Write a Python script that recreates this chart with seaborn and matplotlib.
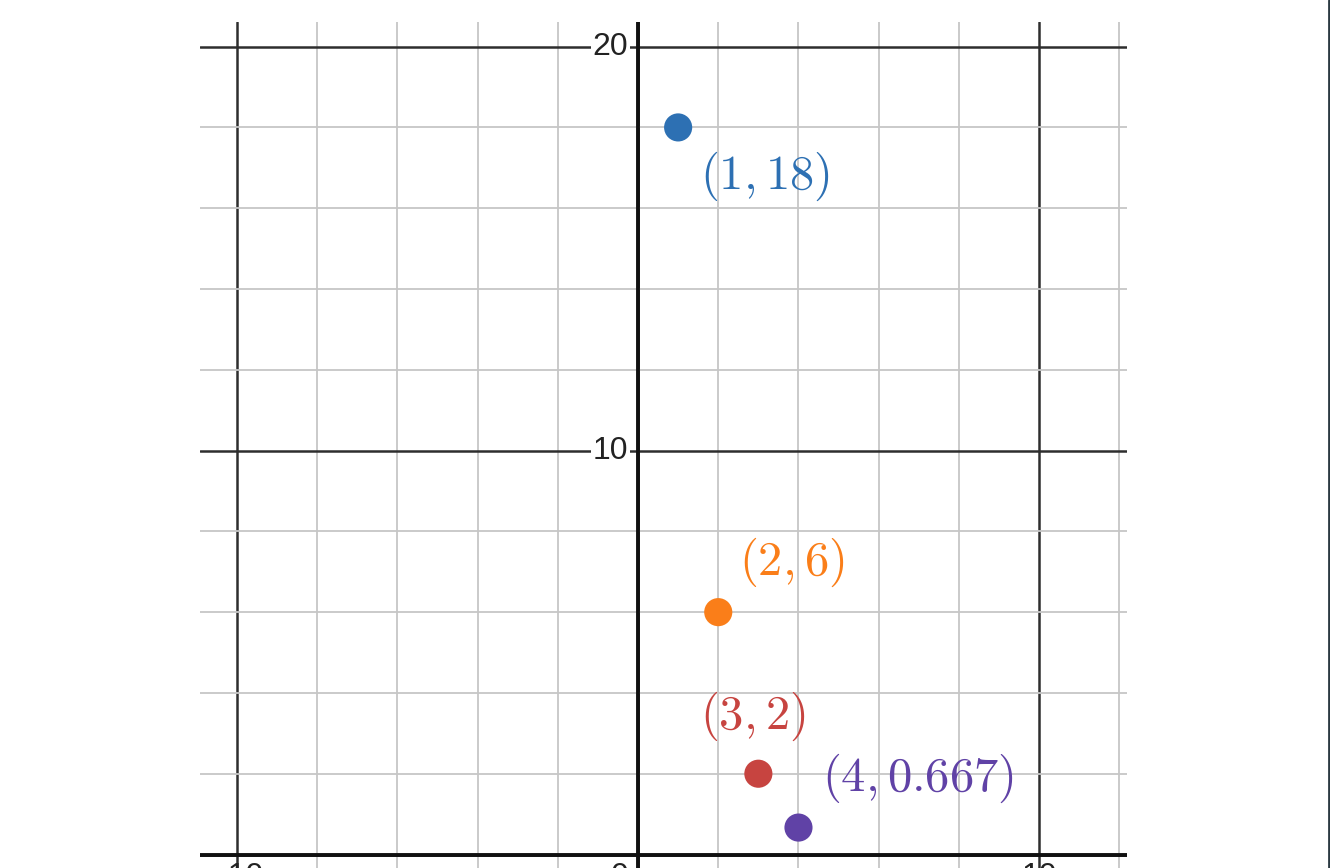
import matplotlib.pyplot as plt
import seaborn as sns
import pandas as pd
from matplotlib.ticker import MultipleLocator
from matplotlib.lines import Line2D

# Points and labels
xs = [1, 2, 3, 4]
ys = [18, 6, 2, 0.667]
labels = ['$(1, 18)$', '$(2, 6)$', '$(3, 2)$', '$(4, 0.667)$']
colors = ['#2d70b3', '#fa7e19', '#c74440', '#6042a6']
# label offsets from each point, in pixels
label_offsets = [(22, -49), (21, 50), (-58, 57), (24, 49)]

x_tick_labels = ['\u221210', '0', '10']
y_tick_labels = ['10', '20']

sns.set_style('white')
plt.rcParams['font.family'] = ['Liberation Sans', 'DejaVu Sans']
plt.rcParams['mathtext.fontset'] = 'cm'

df = pd.DataFrame({'x': xs, 'y': ys, 'label': labels})

fig = plt.figure(figsize=(13.3, 8.68), dpi=100)
ax = fig.add_axes([200 / 1330, 0, 927 / 1330, 1 - 22 / 868])

# grid
ax.set_xlim(-10.92, 12.19)
ax.set_ylim(-0.334, 20.61)
ax.xaxis.set_major_locator(MultipleLocator(10))
ax.yaxis.set_major_locator(MultipleLocator(10))
ax.xaxis.set_minor_locator(MultipleLocator(2))
ax.yaxis.set_minor_locator(MultipleLocator(2))
ax.grid(which='minor', color='#c6c6c6', lw=1.3, zorder=0)
ax.grid(which='major', color='#2e2e2e', lw=1.8, zorder=0)
ax.tick_params(which='both', length=0, labelbottom=False, labelleft=False)
for s in ax.spines.values():
    s.set_visible(False)
ax.axhline(0, color='#111111', lw=2.8, zorder=1)
ax.axvline(0, color='#111111', lw=2.8, zorder=1)

sns.scatterplot(data=df, x='x', y='y', hue='label', palette=colors, s=410,
                linewidth=0, legend=False, ax=ax, zorder=3, clip_on=False)
ax.set_xlabel('')
ax.set_ylabel('')

for x, y, lab, c, off in zip(xs, ys, labels, colors, label_offsets):
    ax.annotate(lab, xy=(x, y), xytext=off, textcoords='offset pixels',
                ha='left', va='center', fontsize=35, color=c, zorder=4)

# axis numbers
for v, lab in zip([10, 20], y_tick_labels):
    ax.annotate(lab, xy=(0, v), xytext=(-10, 0), textcoords='offset pixels',
                ha='right', va='center', fontsize=23, color='#222222', zorder=2,
                bbox=dict(boxstyle='square,pad=0.05', fc='white', ec='none'))
for v, lab in zip([-10, 0, 10], x_tick_labels):
    ha = 'right' if v == 0 else 'center'
    dx = -10 if v == 0 else 0
    ax.annotate(lab, xy=(v, 0), xytext=(dx, -7), textcoords='offset pixels',
                ha=ha, va='top', fontsize=23, color='#222222', zorder=2)

# screenshot frame edge on the right
fig.add_artist(Line2D([1328.5 / 1330, 1328.5 / 1330], [0, 1], transform=fig.transFigure,
                      color='#2b3a42', lw=2))

fig.savefig('out.png', dpi=100)
